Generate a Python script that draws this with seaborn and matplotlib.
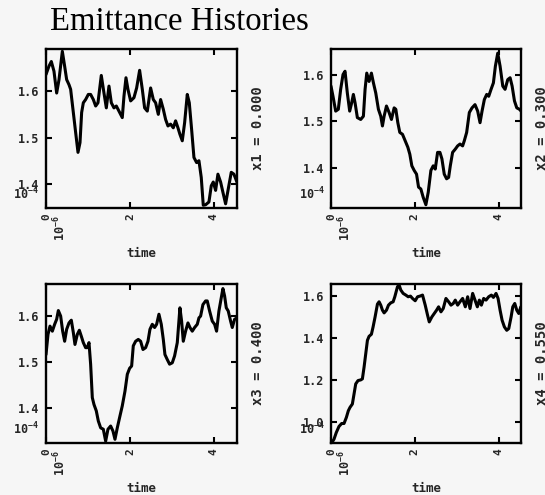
import matplotlib
matplotlib.use("Agg")
import matplotlib.pyplot as plt
import pandas as pd
import seaborn as sns

# Emittance (units of 1e-4) against time (units of 1e-6) for four positions
t1 = [0.000, 0.071, 0.127, 0.190, 0.254, 0.310, 0.389, 0.444, 0.492, 0.548,
      0.587, 0.651, 0.706, 0.762, 0.810, 0.849, 0.889, 0.944, 1.008, 1.063,
      1.127, 1.183, 1.238, 1.317, 1.381, 1.437, 1.500, 1.556, 1.619, 1.675,
      1.738, 1.817, 1.857, 1.905, 1.952, 2.016, 2.095, 2.159, 2.230, 2.294,
      2.349, 2.413, 2.492, 2.556, 2.611, 2.675, 2.730, 2.794, 2.849, 2.905,
      2.968, 3.032, 3.087, 3.143, 3.190, 3.246, 3.302, 3.365, 3.413, 3.468,
      3.524, 3.587, 3.643, 3.698, 3.746, 3.802, 3.881, 3.937, 3.984, 4.040,
      4.095, 4.159, 4.214, 4.278, 4.341, 4.413, 4.476, 4.548]
e1 = [1.636, 1.654, 1.664, 1.643, 1.596, 1.625, 1.686, 1.654, 1.625, 1.614,
      1.604, 1.554, 1.511, 1.468, 1.489, 1.554, 1.575, 1.582, 1.593, 1.593,
      1.582, 1.568, 1.575, 1.634, 1.596, 1.564, 1.611, 1.575, 1.564, 1.568,
      1.557, 1.543, 1.589, 1.629, 1.604, 1.579, 1.586, 1.607, 1.645, 1.604,
      1.564, 1.557, 1.607, 1.582, 1.575, 1.550, 1.582, 1.561, 1.539, 1.525,
      1.529, 1.521, 1.536, 1.521, 1.507, 1.493, 1.532, 1.593, 1.575, 1.518,
      1.457, 1.446, 1.450, 1.414, 1.354, 1.355, 1.361, 1.396, 1.404, 1.386,
      1.421, 1.404, 1.382, 1.357, 1.389, 1.425, 1.421, 1.404]

t2 = [0.000, 0.048, 0.112, 0.175, 0.231, 0.287, 0.335, 0.390, 0.446, 0.494,
      0.534, 0.574, 0.629, 0.709, 0.773, 0.813, 0.853, 0.908, 0.964, 1.012,
      1.068, 1.131, 1.187, 1.227, 1.267, 1.323, 1.386, 1.442, 1.506, 1.546,
      1.594, 1.641, 1.705, 1.769, 1.833, 1.880, 1.928, 1.984, 2.040, 2.088,
      2.143, 2.199, 2.263, 2.319, 2.382, 2.438, 2.486, 2.542, 2.598, 2.645,
      2.701, 2.757, 2.805, 2.845, 2.900, 2.964, 3.020, 3.076, 3.139, 3.179,
      3.235, 3.299, 3.363, 3.434, 3.498, 3.554, 3.602, 3.657, 3.713, 3.761,
      3.817, 3.873, 3.920, 3.976, 4.032, 4.096, 4.151, 4.215, 4.271, 4.319,
      4.375, 4.430, 4.494, 4.534]
e2 = [1.576, 1.554, 1.522, 1.526, 1.569, 1.601, 1.608, 1.561, 1.522, 1.540,
      1.558, 1.540, 1.508, 1.504, 1.511, 1.569, 1.604, 1.586, 1.604, 1.583,
      1.561, 1.526, 1.511, 1.490, 1.511, 1.533, 1.519, 1.504, 1.529, 1.526,
      1.497, 1.476, 1.472, 1.458, 1.444, 1.429, 1.404, 1.394, 1.386, 1.358,
      1.354, 1.336, 1.320, 1.347, 1.394, 1.404, 1.397, 1.433, 1.433, 1.419,
      1.386, 1.376, 1.379, 1.404, 1.433, 1.440, 1.447, 1.451, 1.447, 1.458,
      1.476, 1.519, 1.529, 1.536, 1.522, 1.497, 1.522, 1.547, 1.558, 1.554,
      1.569, 1.583, 1.619, 1.647, 1.619, 1.576, 1.569, 1.590, 1.594, 1.576,
      1.544, 1.529, 1.526, 1.522]

t3 = [0.000, 0.048, 0.095, 0.151, 0.206, 0.254, 0.294, 0.349, 0.397, 0.444,
      0.492, 0.548, 0.603, 0.651, 0.690, 0.746, 0.794, 0.841, 0.889, 0.944,
      0.984, 1.024, 1.063, 1.103, 1.143, 1.198, 1.246, 1.302, 1.365, 1.421,
      1.476, 1.540, 1.595, 1.643, 1.698, 1.762, 1.817, 1.881, 1.937, 1.992,
      2.040, 2.079, 2.135, 2.198, 2.254, 2.310, 2.373, 2.429, 2.476, 2.532,
      2.587, 2.635, 2.690, 2.746, 2.794, 2.833, 2.889, 2.944, 3.008, 3.063,
      3.127, 3.190, 3.230, 3.270, 3.325, 3.381, 3.429, 3.484, 3.540, 3.603,
      3.643, 3.683, 3.738, 3.802, 3.841, 3.897, 3.960, 4.016, 4.063, 4.119,
      4.175, 4.214, 4.254, 4.294, 4.341, 4.397, 4.437, 4.492, 4.548]
e3 = [1.516, 1.560, 1.578, 1.567, 1.582, 1.593, 1.612, 1.600, 1.567, 1.545,
      1.571, 1.585, 1.591, 1.564, 1.538, 1.560, 1.569, 1.556, 1.542, 1.531,
      1.531, 1.542, 1.495, 1.422, 1.407, 1.393, 1.371, 1.356, 1.353, 1.327,
      1.353, 1.360, 1.349, 1.331, 1.356, 1.382, 1.404, 1.436, 1.473, 1.486,
      1.491, 1.535, 1.545, 1.549, 1.545, 1.527, 1.531, 1.545, 1.571, 1.582,
      1.575, 1.582, 1.604, 1.582, 1.549, 1.516, 1.505, 1.495, 1.498, 1.513,
      1.542, 1.618, 1.589, 1.545, 1.567, 1.585, 1.575, 1.567, 1.575, 1.582,
      1.596, 1.600, 1.625, 1.633, 1.633, 1.611, 1.589, 1.582, 1.567, 1.611,
      1.640, 1.660, 1.644, 1.618, 1.611, 1.589, 1.575, 1.593, 1.596]

t4 = [0.016, 0.072, 0.127, 0.191, 0.255, 0.311, 0.367, 0.414, 0.454, 0.510,
      0.550, 0.590, 0.645, 0.709, 0.749, 0.789, 0.829, 0.869, 0.908, 0.964,
      1.004, 1.052, 1.108, 1.147, 1.187, 1.227, 1.267, 1.323, 1.371, 1.426,
      1.482, 1.522, 1.586, 1.625, 1.665, 1.721, 1.785, 1.841, 1.896, 1.944,
      2.008, 2.064, 2.120, 2.183, 2.247, 2.303, 2.343, 2.406, 2.462, 2.518,
      2.566, 2.622, 2.677, 2.741, 2.805, 2.861, 2.916, 2.964, 3.020, 3.076,
      3.139, 3.203, 3.259, 3.315, 3.378, 3.434, 3.490, 3.538, 3.586, 3.641,
      3.697, 3.761, 3.825, 3.873, 3.936, 3.984, 4.032, 4.080, 4.135, 4.191,
      4.239, 4.295, 4.335, 4.382, 4.430, 4.478, 4.526]
e4 = [0.899, 0.917, 0.949, 0.978, 0.992, 0.992, 1.021, 1.053, 1.069, 1.085,
      1.133, 1.181, 1.197, 1.200, 1.205, 1.261, 1.325, 1.389, 1.408, 1.418,
      1.453, 1.501, 1.562, 1.573, 1.557, 1.533, 1.520, 1.533, 1.557, 1.568,
      1.573, 1.597, 1.645, 1.653, 1.629, 1.613, 1.605, 1.597, 1.600, 1.589,
      1.578, 1.597, 1.600, 1.605, 1.557, 1.509, 1.477, 1.501, 1.517, 1.533,
      1.549, 1.525, 1.541, 1.589, 1.573, 1.557, 1.565, 1.581, 1.557, 1.573,
      1.589, 1.549, 1.597, 1.541, 1.613, 1.581, 1.549, 1.581, 1.557, 1.589,
      1.581, 1.597, 1.605, 1.594, 1.613, 1.589, 1.533, 1.485, 1.453, 1.437,
      1.445, 1.501, 1.549, 1.565, 1.533, 1.517, 1.549]

position_labels = ["x1 = 0.000", "x2 = 0.300", "x3 = 0.400", "x4 = 0.550"]
x_tick_values = [0, 2, 4]
y_tick_values = [[1.4, 1.5, 1.6], [1.4, 1.5, 1.6], [1.4, 1.5, 1.6],
                 [1.0, 1.2, 1.4, 1.6]]
title_text = "Emittance Histories"

bg = "#f6f6f6"
sns.set_style("ticks", {"axes.facecolor": bg, "figure.facecolor": bg})
plt.rcParams["font.family"] = ["DejaVu Sans Mono"]
plt.rcParams["font.weight"] = "bold"
plt.rcParams["mathtext.fontset"] = "custom"
plt.rcParams["mathtext.rm"] = "DejaVu Sans Mono:bold"
plt.rcParams["mathtext.it"] = "DejaVu Sans Mono:bold"
plt.rcParams["mathtext.bf"] = "DejaVu Sans Mono:bold"
plt.rcParams["mathtext.default"] = "rm"

fig = plt.figure(figsize=(5.45, 4.95), dpi=100, facecolor=bg)

boxes = [
    [0.0844, 0.5798, 0.3505, 0.3212],
    [0.6073, 0.5798, 0.3486, 0.3212],
    [0.0844, 0.1051, 0.3505, 0.3212],
    [0.6073, 0.1051, 0.3486, 0.3212],
]
ylims = [(1.348, 1.691), (1.313, 1.656), (1.323, 1.670), (0.899, 1.658)]
xmaxes = [4.55, 4.53, 4.55, 4.53]

series = [(t1, e1), (t2, e2), (t3, e3), (t4, e4)]

for i, ((t, e), box) in enumerate(zip(series, boxes)):
    ax = fig.add_axes(box)
    ax.set_facecolor(bg)
    df = pd.DataFrame({"time": t, "emittance": e})
    sns.lineplot(data=df, x="time", y="emittance", ax=ax, color="black",
                 linewidth=2.2, estimator=None)
    ax.set_xlim(0, xmaxes[i])
    ax.set_ylim(*ylims[i])
    ax.set_xticks(x_tick_values)
    ax.set_xticklabels([str(v) for v in x_tick_values], rotation=90,
                       fontsize=8, fontweight="bold")
    ax.set_yticks(y_tick_values[i])
    ax.set_yticklabels([f"{v:.1f}" for v in y_tick_values[i]],
                       fontsize=8.5, fontweight="bold")
    ax.tick_params(direction="in", length=4, width=1.5, top=True, right=True,
                   color="black")
    ax.tick_params(axis="x", pad=4)
    ax.tick_params(axis="y", pad=5)
    for sp in ax.spines.values():
        sp.set_visible(True)
        sp.set_linewidth(1.7)
        sp.set_color("black")
    ax.set_ylabel("")
    ax.set_xlabel("time", fontsize=9, fontweight="bold")
    ax.xaxis.set_label_coords(0.5, -0.245)
    ax.xaxis.label.set_va("top")
    # axis scale factors
    ax.text(0.075, -0.045, r"10$^{-6}$", transform=ax.transAxes, rotation=90,
            ha="center", va="top", fontsize=8.5, fontweight="bold")
    ax.text(-0.035, 0.055, r"10$^{-4}$", transform=ax.transAxes,
            ha="right", va="baseline", fontsize=8.5, fontweight="bold")
    ax.text(1.11, 0.5, position_labels[i], transform=ax.transAxes,
            rotation=90, ha="center", va="center", fontsize=10,
            fontweight="bold")

fig.text(50 / 545, 1 - 30 / 495, title_text, family="Liberation Serif",
         fontweight="normal", fontsize=23.5, ha="left", va="baseline",
         color="black")

fig.savefig("out.png", dpi=100, facecolor=bg)
